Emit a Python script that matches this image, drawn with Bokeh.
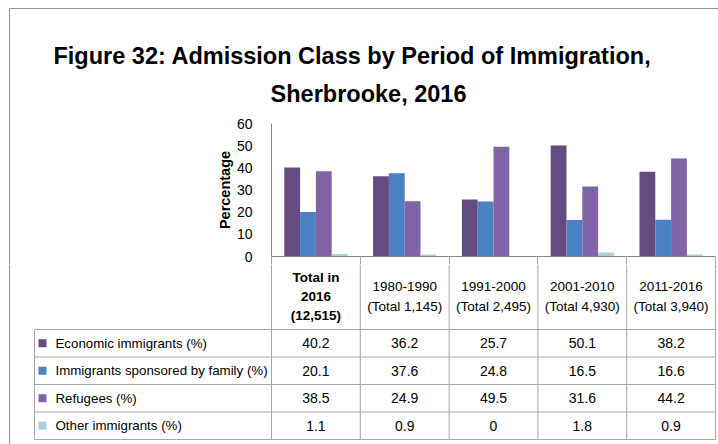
from bokeh.plotting import figure
from bokeh.models import ColumnDataSource, Range1d, FixedTicker
from bokeh.transform import dodge
from bokeh.core.properties import value
from bokeh.embed import file_html
from bokeh.resources import INLINE

# ---------------- data ----------------
title_lines = ["Figure 32: Admission Class by Period of Immigration,", "Sherbrooke, 2016"]
periods = ["Total in\n2016\n(12,515)", "1980-1990\n(Total 1,145)", "1991-2000\n(Total 2,495)",
           "2001-2010\n(Total 4,930)", "2011-2016\n(Total 3,940)"]
series_names = ["Economic immigrants (%)", "Immigrants sponsored by family (%)",
                "Refugees (%)", "Other immigrants (%)"]
economic = [40.2, 36.2, 25.7, 50.1, 38.2]
family = [20.1, 37.6, 24.8, 16.5, 16.6]
refugees = [38.5, 24.9, 49.5, 31.6, 44.2]
other = [1.1, 0.9, 0, 1.8, 0.9]
y_ticks = [0, 10, 20, 30, 40, 50, 60]
y_label = "Percentage"

# ---------------- style / layout ----------------
colors = ["#644B82", "#4A82C3", "#8064A5", "#A8CFDD"]
FONT = "Liberation Sans"
AXIS_GRAY = "#868686"
TABLE_GRAY = "#A6A6A6"
FRAME_GRAY = "#8F8F8F"

PAGE_W = 718
BORDER_X = 9            # outer chart border (left)
BORDER_Y = 8            # outer chart border (top)
COL0 = 271              # page x of plot area / first data column
COL_W = 88.8            # width of one period column
ROW_H = 27.5
BOTTOM_LINE = 439       # page y of table bottom line
T_H = 110               # title strip height
DROP = 8                # header rules drawn as axis ticks below the baseline
A_H = 146 + DROP        # bar strip height
B_H = 444 - T_H - A_H   # table strip height
A_TOP = T_H
B_TOP = T_H + A_H


def blank(w, h, xr, yr, **kw):
    f = figure(width=w, height=h, x_range=xr, y_range=yr, output_backend="svg",
               toolbar_location=None, x_axis_location=None, y_axis_location=None,
               min_border=0, **kw)
    f.grid.visible = False
    f.outline_line_color = None
    return f


n = len(periods)
m = len(series_names)

# ---------------- title strip ----------------
pT = blank(PAGE_W, T_H, Range1d(0, PAGE_W), Range1d(T_H, 0))
pT.segment(x0=[BORDER_X, BORDER_X], y0=[BORDER_Y, BORDER_Y], x1=[PAGE_W, BORDER_X],
           y1=[BORDER_Y, T_H], line_color=FRAME_GRAY, line_width=1)
pT.text(x=[352, 368], y=[55, 93], text=title_lines, text_font=value(FONT),
        text_font_style="bold", text_font_size="23.5px", text_align="center",
        text_baseline="alphabetic", text_color="#000000")

# ---------------- bars ----------------
A_W = PAGE_W - BORDER_X - 1
pA = figure(width=A_W, height=A_H, x_range=Range1d(0, n), y_range=Range1d(0, 60),
            output_backend="svg", toolbar_location=None,
            min_border_left=COL0 - BORDER_X - 1, min_border_right=3,
            min_border_top=123 - A_TOP, min_border_bottom=DROP,
            styles={"margin-left": f"{BORDER_X}px", "border-left": f"1px solid {FRAME_GRAY}"})
pA.grid.visible = False
pA.outline_line_color = None
src = ColumnDataSource(dict(slot=list(range(n)), period=periods, economic=economic,
                            family=family, refugees=refugees, other=other))
keys = ["economic", "family", "refugees", "other"]
bw = 0.178
for i, (k, c) in enumerate(zip(keys, colors)):
    off = 0.5 + (i - 1.5) * bw
    pA.vbar(x=dodge("slot", off), top=k, width=bw, source=src,
            fill_color=c, line_color=None)
ya = pA.yaxis[0]
ya.ticker = FixedTicker(ticks=y_ticks)
ya.axis_line_color = AXIS_GRAY
ya.major_tick_line_color = None
ya.minor_tick_line_color = None
ya.major_label_standoff = 13
ya.major_label_text_font = FONT
ya.major_label_text_font_size = "14px"
ya.major_label_text_color = "#000000"
ya.axis_label = y_label
ya.axis_label_text_font = FONT
ya.axis_label_text_font_style = "bold"
ya.axis_label_text_font_size = "14.5px"
ya.axis_label_text_color = "#000000"
ya.axis_label_standoff = 1

# category baseline; its ticks start the table's column rules
xa = pA.xaxis[0]
xa.ticker = FixedTicker(ticks=list(range(n + 1)))
xa.axis_line_color = AXIS_GRAY
xa.major_tick_in = 0
xa.major_tick_out = DROP
xa.major_tick_line_color = TABLE_GRAY
xa.minor_tick_line_color = None
xa.major_label_overrides = {i: "" for i in range(n + 1)}
xa.major_label_text_font_size = "0px"
xa.major_label_standoff = 0

# ---------------- table ----------------
xr = Range1d((0 - COL0) / COL_W, (PAGE_W - COL0) / COL_W)
yr = Range1d((BOTTOM_LINE - (B_TOP + B_H)) / ROW_H, (BOTTOM_LINE - B_TOP) / ROW_H)
pB = blank(PAGE_W, B_H, xr, yr)

tbl_left = (34 - COL0) / COL_W

# outer border continues on the left
pB.segment(x0=[(BORDER_X - COL0) / COL_W], y0=[yr.start], x1=[(BORDER_X - COL0) / COL_W],
           y1=[yr.end], line_color=FRAME_GRAY, line_width=1)
# horizontal rules
pB.segment(x0=[tbl_left] * (m + 1), y0=list(range(m + 1)), x1=[n] * (m + 1),
           y1=list(range(m + 1)), line_color=TABLE_GRAY, line_width=1)
# vertical rules
pB.segment(x0=list(range(n + 1)), y0=[0] * (n + 1), x1=list(range(n + 1)),
           y1=[yr.end] * (n + 1), line_color=TABLE_GRAY, line_width=1)
pB.segment(x0=[tbl_left], y0=[0], x1=[tbl_left], y1=[m], line_color=TABLE_GRAY, line_width=1)

# header texts
hdr_mid = (BOTTOM_LINE - 296) / ROW_H
pB.text(x=[0.5], y=[hdr_mid], text=periods[:1], text_font=value(FONT), text_font_style="bold",
        text_font_size="13.5px", text_align="center", text_baseline="middle",
        text_line_height=1.28, text_color="#000000")
pB.text(x=[i + 0.5 for i in range(1, n)], y=[hdr_mid] * (n - 1), text=periods[1:],
        text_font=value(FONT), text_font_size="13.5px", text_align="center",
        text_baseline="middle", text_line_height=1.28, text_color="#000000")

# values
all_vals = [economic, family, refugees, other]
vx, vy, vt = [], [], []
for s, vals in enumerate(all_vals):
    for i, v in enumerate(vals):
        vx.append(i + 0.5)
        vy.append(m - s - 0.5)
        vt.append(f"{v:g}")
pB.text(x=vx, y=vy, text=vt, text_font=value(FONT), text_font_size="14px",
        text_align="center", text_baseline="middle", text_color="#000000")

# series labels with legend keys
row_y = [m - s - 0.5 for s in range(m)]
pB.scatter(x=[(42 - COL0) / COL_W] * m, y=row_y, marker="square", size=8,
           fill_color=colors, line_color=None)
pB.text(x=[(55 - COL0) / COL_W] * m, y=row_y, text=series_names, text_font=value(FONT),
        text_font_size="13.3px", text_align="left", text_baseline="middle",
        text_color="#000000")

open("out.html", "w").write(file_html([pT, pA, pB], INLINE))
